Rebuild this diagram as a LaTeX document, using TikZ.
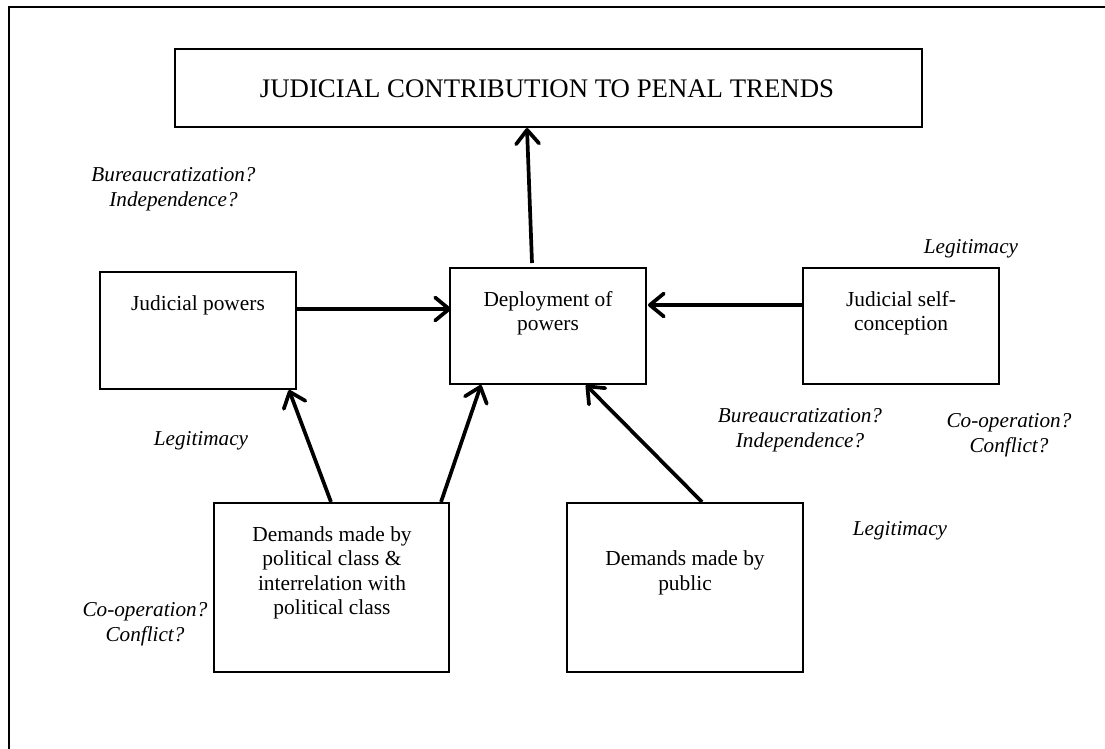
\documentclass[tikz,border=0pt]{standalone}
\usepackage{fontspec}
\setmainfont{Liberation Serif}
\usetikzlibrary{arrows.meta,calc}
\tikzset{
  box/.style={draw, line width=2pt, rectangle, inner sep=0pt},
  txt/.style={align=center, font=\fontsize{21.4}{24.5}\selectfont, inner sep=0pt},
  itxt/.style={align=center, font=\fontsize{21.2}{24.5}\selectfont\itshape, inner sep=0pt},
  arr/.style={line width=3.7pt, -{Straight Barb[length=14pt,width=23pt,line cap=round,line join=round]}},
}
\begin{document}
\begin{tikzpicture}[x=1pt,y=-1pt]
\useasboundingbox (0,0) rectangle (1105,749);
% outer frame (cut off at right and bottom)
\draw[line width=2pt] (9,749) -- (9,7.5) -- (1105,7.5);
% boxes
\node[box, minimum width=747pt, minimum height=78pt] (title) at (548.5,88) {};
\node[txt, font=\fontsize{26.8}{30}\selectfont] (titletext) at (547,89) {JUDICIAL CONTRIBUTION TO PENAL TRENDS};
\node[box, minimum width=196pt, minimum height=116pt] (dep) at (548,326) {};
\node[txt] (deptext) at (548,313) {Deployment of\\powers};
\node[box, minimum width=196pt, minimum height=117pt] (jp) at (198,330.5) {};
\node[txt] (jptext) at (198,305) {Judicial powers};
\node[box, minimum width=196pt, minimum height=116pt] (jsc) at (901,326) {};
\node[txt] (jsctext) at (901,313) {Judicial self-\\conception};
\node[box, minimum width=235pt, minimum height=169pt] (pol) at (331.5,587.5) {};
\node[txt] (poltext) at (332,573) {Demands made by\\political class \&\\interrelation with\\political class};
\node[box, minimum width=236pt, minimum height=169pt] (pub) at (685,587.5) {};
\node[txt] (pubtext) at (685,573) {Demands made by\\public};
% italic annotations
\node[itxt] (bi1) at (173.5,189) {Bureaucratization?\\Independence?};
\node[itxt] (leg1) at (971,249) {Legitimacy};
\node[itxt] (bi2) at (800,430) {Bureaucratization?\\Independence?};
\node[itxt] (cc1) at (1009,435) {Co-operation?\\Conflict?};
\node[itxt] (leg2) at (201,441) {Legitimacy};
\node[itxt] (leg3) at (900,531) {Legitimacy};
\node[itxt] (cc2) at (145,624) {Co-operation?\\Conflict?};
% arrows
\draw[arr] ([xshift=83pt,yshift=4pt]dep.north west) -- ([xshift=353pt]title.south west);
\draw[arr] ([yshift=21.5pt]jp.east) -- ([xshift=2pt,yshift=17pt]dep.west);
\draw[arr] ([yshift=21pt]jsc.west) -- ([xshift=1pt,yshift=21pt]dep.east);
\draw[arr] ([xshift=118pt]pol.north west) -- ([xshift=-8pt]jp.south east);
\draw[arr] ([xshift=228pt]pol.north west) -- ([xshift=32pt]dep.south west);
\draw[arr] ([xshift=136pt]pub.north west) -- ([xshift=137pt]dep.south west);
\end{tikzpicture}
\end{document}
